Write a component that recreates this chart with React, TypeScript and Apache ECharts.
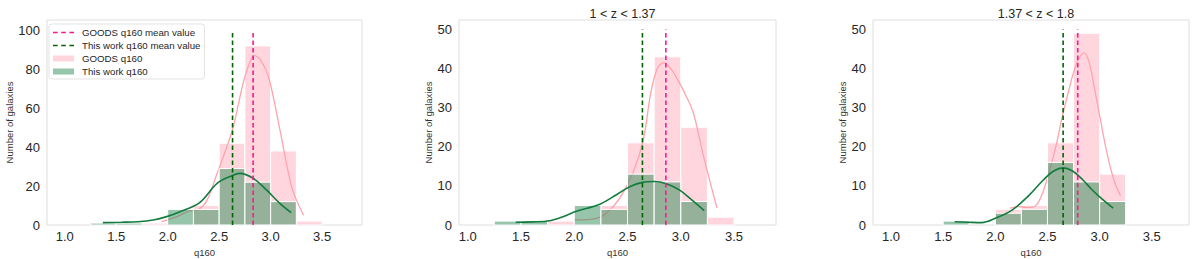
import React, { useEffect, useRef } from "react";
import * as echarts from "echarts";

// ---------- data ----------
const binStarts = [1.25, 1.5, 1.75, 2.0, 2.25, 2.5, 2.75, 3.0, 3.25];
const binWidth = 0.25;

const goodsCounts1 = [0, 0, 1, 0, 10, 42, 92, 38, 2];
const workCounts1 = [1, 1, 0, 8, 8, 29, 22, 12, 0];
const goodsCounts2 = [0, 0, 1, 0, 5, 21, 43, 25, 2];
const workCounts2 = [1, 1, 0, 5, 4, 13, 11, 6, 0];
const goodsCounts3 = [0, 0, 0, 4, 5, 21, 49, 13, 0];
const workCounts3 = [0, 1, 0, 3, 4, 16, 11, 6, 0];

const goodsKde1 = [[1.94, 1.7], [2.09, 4.3], [2.2, 7], [2.3, 8], [2.38, 12.5], [2.47, 25], [2.56, 38], [2.64, 51], [2.72, 70], [2.78, 81], [2.84, 87], [2.9, 85], [2.98, 76], [3.09, 49], [3.16, 30], [3.22, 17], [3.32, 5]];
const workKde1 = [[1.37, 1.2], [1.55, 1.4], [1.71, 1.7], [1.86, 2.6], [1.99, 4.3], [2.12, 6.8], [2.31, 11.5], [2.48, 21.4], [2.62, 25.2], [2.7, 26.5], [2.83, 24], [2.96, 18], [3.09, 11.1], [3.2, 6.3]];
const goodsKde2 = [[2.0, 1.3], [2.21, 1.7], [2.3, 3], [2.43, 7], [2.56, 14], [2.65, 22], [2.72, 34], [2.78, 40], [2.84, 41.5], [2.93, 39], [2.99, 36.2], [3.05, 33], [3.12, 28.5], [3.21, 18], [3.34, 4.3]];
const workKde2 = [[1.45, 0.7], [1.6, 0.8], [1.77, 1.1], [1.9, 2.2], [2.02, 3.5], [2.24, 5.3], [2.4, 7.8], [2.52, 9.8], [2.64, 10.9], [2.75, 11.1], [2.87, 10.5], [2.99, 8.9], [3.1, 6.5], [3.22, 3.7]];
const goodsKde3 = [[2.14, 4.3], [2.22, 4.7], [2.3, 4.5], [2.38, 4.8], [2.45, 8], [2.52, 14], [2.58, 20], [2.64, 27.5], [2.7, 34], [2.75, 39], [2.8, 42.5], [2.85, 44], [2.9, 41.5], [2.95, 35], [3.0, 28], [3.05, 21], [3.1, 15], [3.15, 10.5], [3.2, 7.5]];
const workKde3 = [[1.61, 0.85], [1.74, 0.7], [1.87, 0.6], [2.0, 1.7], [2.16, 3.8], [2.32, 7.5], [2.46, 11.5], [2.56, 13.8], [2.65, 14.6], [2.74, 13.8], [2.84, 11.5], [2.92, 9.2], [3.0, 7.2], [3.13, 4.3]];

const goodsMeans = [2.83, 2.86, 2.79];
const workMeans = [2.63, 2.64, 2.65];
const meanLineTops = [100, 50, 50];

const panelTitles = ["", "1 < z < 1.37", "1.37 < z < 1.8"];
const xTickLabels = [1.0, 1.5, 2.0, 2.5, 3.0, 3.5];
const yTickLabels1 = [0, 20, 40, 60, 80, 100];
const yTickLabels23 = [0, 10, 20, 30, 40, 50];

const seriesNames = {
  goodsMean: "GOODS q160 mean value",
  workMean: "This work q160 mean value",
  goods: "GOODS q160",
  work: "This work q160",
};

// ---------- styling ----------
const FONT = "'Liberation Sans', Arial, sans-serif";
const PINK_FILL = "rgba(255,192,203,0.65)";
const GREEN_FILL = "rgba(46,139,87,0.5)";
const PINK_LINE = "#ffa3ae";
const GREEN_LINE = "#127c3e";
const MEAN_PINK = "#ff1493";
const MEAN_GREEN = "#006400";
// dashed-line legend handle (tiny corner specks fix the icon's box to 21x6)
const DASH_ICON =
  "path://M0,0h0.01v0.01h-0.01z M20.99,5.99h0.01v0.01h-0.01z M0,2.2h4.6v1.6h-4.6z M8.2,2.2h4.6v1.6h-4.6z M16.4,2.2h4.6v1.6h-4.6z";

const panels = [
  { left: 47, width: 315, xMin: 0.827, xMax: 3.888, yMax: 105.3, yTicks: yTickLabels1, nameGap: 32 },
  { left: 459, width: 317, xMin: 0.918, xMax: 3.894, yMax: 52.4, yTicks: yTickLabels23, nameGap: 24 },
  { left: 873, width: 316, xMin: 0.827, xMax: 3.857, yMax: 52.4, yTicks: yTickLabels23, nameGap: 25 },
];
const GRID_TOP = 20;
const GRID_HEIGHT = 205;

const histData = (counts: number[]) =>
  binStarts
    .map((s, i) => [s, s + binWidth, counts[i]])
    .filter((d) => d[2] > 0);

const makeHist = (name: string, counts: number[], idx: number, fill: string, z: number) => ({
  type: "custom",
  name,
  xAxisIndex: idx,
  yAxisIndex: idx,
  z,
  itemStyle: { color: fill },
  encode: { x: [0, 1], y: 2 },
  data: histData(counts),
  renderItem: (params: any, api: any) => {
    const p0 = api.coord([api.value(0), api.value(2)]);
    const p1 = api.coord([api.value(1), 0]);
    return {
      type: "rect",
      shape: { x: p0[0], y: p0[1], width: p1[0] - p0[0], height: p1[1] - p0[1] },
      style: { fill, stroke: "#ffffff", lineWidth: 1 },
    };
  },
});

const makeKde = (name: string, data: number[][], idx: number, color: string, width: number, z: number) => ({
  type: "line",
  name,
  xAxisIndex: idx,
  yAxisIndex: idx,
  z,
  smooth: 0.35,
  symbol: "none",
  data,
  lineStyle: { color, width },
  itemStyle: { color },
});

const makeMean = (name: string, m: number, top: number, idx: number, color: string, z: number) => ({
  type: "line",
  name,
  xAxisIndex: idx,
  yAxisIndex: idx,
  z,
  symbol: "none",
  data: [[m, 0], [m, top]],
  lineStyle: { color, width: 1.6, type: [4.5, 3] },
  itemStyle: { color },
});

export default function App() {
  const ref = useRef<HTMLDivElement>(null);

  useEffect(() => {
    if (!ref.current) return;
    const chart = echarts.init(ref.current, null, { renderer: "svg" });

    const goodsCounts = [goodsCounts1, goodsCounts2, goodsCounts3];
    const workCounts = [workCounts1, workCounts2, workCounts3];
    const goodsKdes = [goodsKde1, goodsKde2, goodsKde3];
    const workKdes = [workKde1, workKde2, workKde3];

    const series: any[] = [];
    panels.forEach((_, i) => {
      series.push(makeHist(seriesNames.goods, goodsCounts[i], i, PINK_FILL, 1));
      series.push(makeKde("GOODS q160 KDE", goodsKdes[i], i, PINK_LINE, 1.3, 2));
      series.push(makeHist(seriesNames.work, workCounts[i], i, GREEN_FILL, 3));
      series.push(makeKde("This work q160 KDE", workKdes[i], i, GREEN_LINE, 1.6, 4));
      series.push(makeMean(seriesNames.goodsMean, goodsMeans[i], meanLineTops[i], i, MEAN_PINK, 5));
      series.push(makeMean(seriesNames.workMean, workMeans[i], meanLineTops[i], i, MEAN_GREEN, 6));
    });

    const option: any = {
      animation: false,
      backgroundColor: "#ffffff",
      textStyle: { fontFamily: FONT },
      title: panels
        .map((p, i) => ({
          text: panelTitles[i],
          left: p.left + p.width / 2,
          top: 2,
          textAlign: "center",
          textStyle: { fontSize: 12.5, fontWeight: "normal", color: "#262626", fontFamily: FONT },
        }))
        .filter((t) => t.text),
      legend: {
        left: 49,
        top: 24,
        orient: "vertical",
        itemWidth: 21,
        itemHeight: 6,
        itemGap: 2,
        padding: [3, 4, 2, 4],
        backgroundColor: "rgba(255,255,255,0.85)",
        borderColor: "#e3e3e3",
        borderWidth: 1,
        borderRadius: 3,
        textStyle: { fontSize: 9.7, color: "#262626", fontFamily: FONT, lineHeight: 11, padding: [0, 0, 0, 3] },
        data: [
          { name: seriesNames.goodsMean, icon: DASH_ICON, itemStyle: { color: MEAN_PINK } },
          { name: seriesNames.workMean, icon: DASH_ICON, itemStyle: { color: MEAN_GREEN } },
          { name: seriesNames.goods, icon: "rect", itemStyle: { color: PINK_FILL } },
          { name: seriesNames.work, icon: "rect", itemStyle: { color: GREEN_FILL } },
        ],
      },
      grid: panels.map((p) => ({
        left: p.left,
        top: GRID_TOP,
        width: p.width,
        height: GRID_HEIGHT,
        show: true,
        borderColor: "#dedede",
        borderWidth: 1,
        backgroundColor: "transparent",
        containLabel: false,
        outerBoundsMode: "none",
      })),
      xAxis: panels.map((p, i) => ({
        type: "value",
        gridIndex: i,
        min: p.xMin,
        max: p.xMax,
        name: "q160",
        nameLocation: "middle",
        nameGap: 20,
        nameTextStyle: { fontSize: 9.5, color: "#333333", fontFamily: FONT },
        axisLine: { show: false },
        axisTick: { show: false },
        splitLine: { show: false },
        axisLabel: {
          customValues: xTickLabels,
          formatter: (v: number) => v.toFixed(1),
          fontSize: 13,
          color: "#262626",
          margin: 5,
          fontFamily: FONT,
        },
      })),
      yAxis: panels.map((p, i) => ({
        type: "value",
        gridIndex: i,
        min: 0,
        max: p.yMax,
        name: "Number of galaxies",
        nameLocation: "middle",
        nameGap: p.nameGap,
        nameTextStyle: { fontSize: 9.5, color: "#333333", fontFamily: FONT },
        axisLine: { show: false },
        axisTick: { show: false },
        splitLine: { show: false },
        axisLabel: {
          customValues: p.yTicks,
          fontSize: 13,
          color: "#262626",
          margin: 7,
          fontFamily: FONT,
        },
      })),
      series,
    };

    chart.setOption(option);
    return () => chart.dispose();
  }, []);

  return (
    <div
      ref={ref}
      style={{ position: "absolute", left: 0, top: 0, width: 1200, height: 259, background: "#fff" }}
    />
  );
}
